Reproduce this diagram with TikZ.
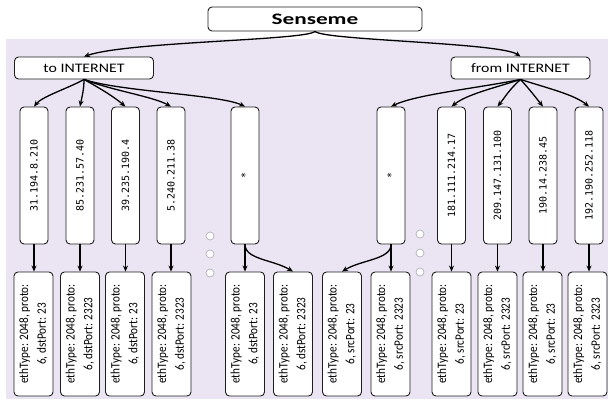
\documentclass[tikz,border=0pt]{standalone}
\usepackage{fontspec}
\setmainfont{Carlito}
\setmonofont{DejaVu Sans Mono}
\usetikzlibrary{arrows.meta}
\definecolor{bgcol}{RGB}{234,228,243}
\definecolor{boxline}{RGB}{30,30,30}
\definecolor{dotline}{RGB}{170,170,175}
\tikzset{
  box/.style={draw=boxline, line width=0.9pt, fill=white, rounded corners=4pt, inner sep=0pt},
  topbox/.style={box, minimum width=214pt, minimum height=24pt},
  dirbox/.style={box, minimum width=139pt, minimum height=22pt},
  ipbox/.style={box, minimum width=28pt, minimum height=137pt},
  rulebox/.style={box, minimum width=39pt, minimum height=124pt},
  conn/.style={line width=1.3pt, -{Stealth[length=6pt,width=5pt]}},
  dot/.style={circle, draw=dotline, fill=white, line width=0.6pt, minimum size=8pt, inner sep=0pt}
}
\newcommand{\iptext}[1]{\rotatebox{90}{\ttfamily\fontsize{10}{12}\selectfont #1}}
\newcommand{\ruletext}[2]{\rotatebox{90}{\scalebox{1}[1.15]{\fontsize{11.2}{15.5}\selectfont\begin{tabular}{@{}c@{}}#1\\#2\end{tabular}}}}
\begin{document}
\begin{tikzpicture}[x=1pt,y=1pt]
\useasboundingbox (0,0) rectangle (608,-400);
\fill[bgcol] (6,-39) rectangle (608,-399);

\node[topbox] (sen) at (315,-19) {\scalebox{1.45}[1]{\bfseries\fontsize{16}{18}\selectfont Senseme}};
\node[dirbox] (ti) at (84,-68) {\scalebox{1.22}[1]{\fontsize{13}{15}\selectfont to INTERNET}};
\node[dirbox] (fi) at (520.5,-68) {\scalebox{1.22}[1]{\fontsize{13}{15}\selectfont from INTERNET}};

% IP boxes
\node[ipbox] (a1) at (34,-175.5) {\iptext{31.194.8.210}};
\node[ipbox] (a2) at (80,-175.5) {\iptext{85.231.57.40}};
\node[ipbox] (a3) at (125.5,-175.5) {\iptext{39.235.190.4}};
\node[ipbox] (a4) at (171,-175.5) {\iptext{5.240.211.38}};
\node[ipbox] (a5) at (245,-175.5) {\iptext{*}};
\node[ipbox] (b5) at (391,-175.5) {\iptext{*}};
\node[ipbox] (b1) at (451.5,-175.5) {\iptext{181.111.214.17}};
\node[ipbox] (b2) at (497.5,-175.5) {\iptext{209.147.131.100}};
\node[ipbox] (b3) at (543,-175.5) {\iptext{190.14.238.45}};
\node[ipbox] (b4) at (589,-175.5) {\iptext{192.190.252.118}};

% rule boxes
\node[rulebox] (c1) at (33.5,-334) {\ruletext{ethType: 2048, proto:}{6, dstPort: 23}};
\node[rulebox] (c2) at (80,-334) {\ruletext{ethType: 2048, proto:}{6, dstPort: 2323}};
\node[rulebox] (c3) at (125,-334) {\ruletext{ethType: 2048, proto:}{6, dstPort: 23}};
\node[rulebox] (c4) at (171.5,-334) {\ruletext{ethType: 2048, proto:}{6, dstPort: 2323}};
\node[rulebox] (c5) at (245,-334) {\ruletext{ethType: 2048, proto:}{6, dstPort: 23}};
\node[rulebox] (c6) at (293,-334) {\ruletext{ethType: 2048, proto:}{6, dstPort: 2323}};
\node[rulebox] (d6) at (342,-334) {\ruletext{ethType: 2048, proto:}{6, srcPort: 23}};
\node[rulebox] (d5) at (390.5,-334) {\ruletext{ethType: 2048, proto:}{6, srcPort: 2323}};
\node[rulebox] (d1) at (451.5,-334) {\ruletext{ethType: 2048, proto:}{6, srcPort: 23}};
\node[rulebox] (d2) at (497.5,-334) {\ruletext{ethType: 2048, proto:}{6, srcPort: 2323}};
\node[rulebox] (d3) at (542.5,-334) {\ruletext{ethType: 2048, proto:}{6, srcPort: 23}};
\node[rulebox] (d4) at (587.5,-334) {\ruletext{ethType: 2048, proto:}{6, srcPort: 2323}};

% dots
\node[dot] (l1) at (210,-236) {};
\node[dot] (l2) at (210,-254) {};
\node[dot] (l3) at (210,-273) {};
\node[dot] (r1) at (420,-234) {};
\node[dot] (r2) at (420,-253) {};
\node[dot] (r3) at (420,-272) {};

% Senseme connectors
\draw[conn] (sen.south) .. controls +(-10,-9) and +(44,15) .. (ti.north);
\draw[conn] (sen.south) .. controls +(10,-9) and +(-20,14) .. (fi.north);

% to INTERNET fan
\draw[conn] (ti.south) .. controls +(-14,-8) and +(8,10) .. (a1.north);
\draw[conn] (ti.south) .. controls +(0,-10) and +(2,10) .. (a2.north);
\draw[conn] (ti.south) .. controls +(18,-10) and +(-12,10) .. (a3.north);
\draw[conn] (ti.south) .. controls +(28,-11) and +(-18,10) .. (a4.north);
\draw[conn] (ti.south) .. controls +(35,-12) and +(-25,12) .. (a5.north);

% from INTERNET fan
\draw[conn] (fi.south) .. controls +(-45,-9) and +(25,12) .. (b5.north);
\draw[conn] (fi.south) .. controls +(-28,-9) and +(15,12) .. (b1.north);
\draw[conn] (fi.south) .. controls +(-12,-11) and +(8,10) .. (b2.north);
\draw[conn] (fi.south) .. controls +(10,-11) and +(-8,10) .. (b3.north);
\draw[conn] (fi.south) .. controls +(28,-9) and +(-15,12) .. (b4.north);

% IP to rules
\draw[conn] (a1.south) -- (a1.south |- c1.north);
\draw[conn] (a2.south) -- (a2.south |- c2.north);
\draw[conn] (a3.south) -- (a3.south |- c3.north);
\draw[conn] (a4.south) -- (a4.south |- c4.north);
\draw[conn] (a5.south) -- (a5.south |- c5.north);
\draw[conn] (a5.south) .. controls +(0,-15) and +(-20,12) .. (c6.north);
\draw[conn] (b5.south) -- (b5.south |- d5.north);
\draw[conn] (b5.south) .. controls +(0,-15) and +(20,12) .. (d6.north);
\draw[conn] (b1.south) -- (b1.south |- d1.north);
\draw[conn] (b2.south) -- (b2.south |- d2.north);
\draw[conn] (b3.south) -- (b3.south |- d3.north);
\draw[conn] (b4.south) -- (b4.south |- d4.north);
\end{tikzpicture}
\end{document}
